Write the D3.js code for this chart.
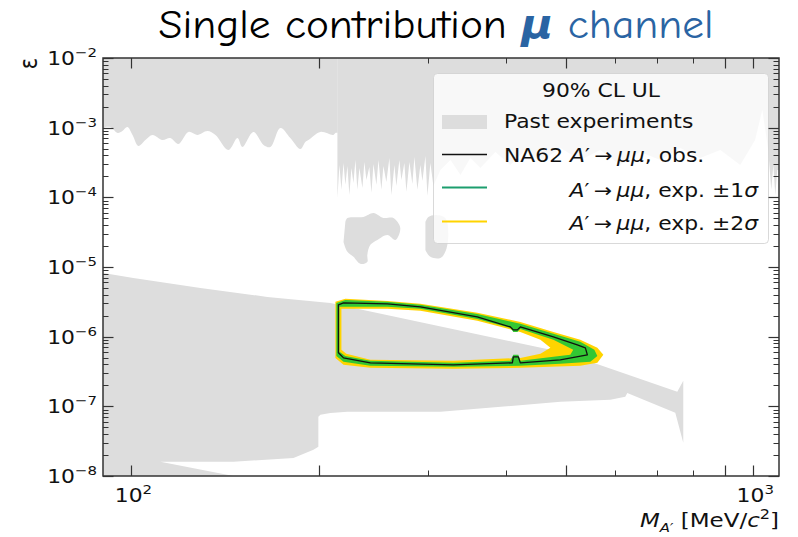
<!DOCTYPE html>
<html>
<head>
<meta charset="utf-8">
<script src="https://cdn.jsdelivr.net/npm/d3@7"></script>
<style>
	body { margin: 0; background: #fff; }
	svg text { font-family: "DejaVu Sans", sans-serif; }
</style>
</head>
<body>
<div id="chart"></div>
<script>
/* axis ranges and tick labels */
var massDomain = [90, 1100];
var epsDomain = [1e-8, 1e-2];
var yTickExps = [-8, -7, -6, -5, -4, -3, -2];
var xTickExps = [2, 3];
var xLongTicks = [100, 200, 500, 900, 1000];
var xShortTicks = [300, 400, 600, 700, 800];

/* past experiments: upper exclusion, lower edge [mass, eps] (smooth part) */
var pastUpperWavy = [
	[85, 9.9e-4], [90.1, 9.9e-4], [90.8, 1.02e-3], [92.5, 1.02e-3], [95.0, 8.4e-4], [96.7, 8.97e-4],
	[98.5, 1.02e-3], [100.4, 7.86e-4], [102.6, 5.46e-4], [105.3, 6.66e-4], [108.1, 7.86e-4],
	[112.1, 6.66e-4], [115.5, 7.11e-4], [119.0, 5.84e-4], [123.5, 8.68e-4], [127.6, 7.86e-4],
	[132.5, 8.97e-4], [136.5, 7.86e-4], [143.2, 4.78e-4], [148.1, 7.11e-4], [150.8, 5.28e-4],
	[157.1, 8.68e-4], [163.1, 5.65e-4], [167.3, 5.28e-4], [173.6, 9.9e-4], [180.1, 7.11e-4],
	[186.9, 4.94e-4], [190.4, 6.24e-4], [192.6, 6.66e-4], [201.3, 8.68e-4], [211.2, 7.86e-4],
	[212.8, 8.4e-4], [214.6, 8.4e-4]
];
/* past experiments: upper exclusion, lower edge (spiky part) */
var pastUpperSpiky = [
	[214.4, 9.8e-5], [216.0, 2.92e-4], [217.6, 1.28e-4], [219.3, 3.11e-4], [220.8, 1.51e-4],
	[222.5, 2.82e-4], [224.1, 1.08e-4], [225.8, 2.64e-4], [227.5, 1.61e-4], [229.2, 3.44e-4],
	[230.8, 1.28e-4], [232.6, 2.64e-4], [235.2, 1.36e-4], [236.9, 3.22e-4], [238.7, 1.78e-4],
	[241.3, 2.73e-4], [243.2, 1.16e-4], [245.0, 3.01e-4], [247.7, 1.51e-4], [249.6, 3.44e-4],
	[252.3, 1.28e-4], [254.2, 2.82e-4], [257.0, 1.66e-4], [259.9, 3.67e-4], [261.8, 1.08e-4],
	[264.8, 2.92e-4], [266.7, 1.46e-4], [269.7, 3.44e-4], [271.7, 1.78e-4], [274.7, 3.11e-4],
	[276.8, 1.20e-4], [279.9, 3.22e-4], [283.0, 1.56e-4], [285.1, 3.80e-4], [288.3, 1.28e-4],
	[291.5, 2.92e-4], [293.7, 1.72e-4], [297.0, 3.93e-4], [299.2, 1.05e-4], [302.5, 3.11e-4],
	[305.9, 1.46e-4], [314.0, 2.47e-4], [325.9, 3.44e-4], [338.2, 2.10e-4], [350.8, 3.67e-4],
	[364.1, 2.64e-4], [384.8, 4.48e-4], [406.7, 2.92e-4], [429.9, 4.79e-4], [454.7, 3.22e-4],
	[489.6, 5.11e-4], [527.2, 3.44e-4], [567.5, 4.79e-4], [611.2, 2.92e-4], [658.1, 4.48e-4],
	[708.7, 3.44e-4], [763.3, 5.11e-4], [821.8, 3.67e-4], [885.1, 4.79e-4], [953.0, 2.92e-4],
	[1007, 6.66e-4], [1034, 1.79e-3], [1057, 4.79e-4], [1069, 1.28e-4], [1077, 2.92e-4],
	[1085, 1.08e-4], [1093, 2.47e-4], [1200, 2.47e-4]
];

/* past experiments: two small islands */
var pastIsland1 = [
	[220.8, 4.44e-5], [222.5, 5.06e-5], [236.0, 5.23e-5], [245.0, 5.97e-5], [254.2, 5.06e-5],
	[263.8, 5.06e-5], [270.6, 3.64e-5], [265.8, 2.45e-5], [258.0, 2.89e-5], [248.6, 2.45e-5],
	[242.2, 2.08e-5], [239.5, 1.49e-5], [239.5, 1.18e-5], [233.4, 1.11e-5], [227.5, 1.40e-5],
	[222.5, 1.65e-5], [219.3, 2.29e-5]
];
var pastIsland2 = [
	[297.0, 4.44e-5], [300.3, 5.23e-5], [308.2, 5.59e-5], [319.7, 5.06e-5], [323.3, 2.89e-5],
	[319.7, 1.65e-5], [314.0, 1.35e-5], [302.5, 1.40e-5], [297.0, 1.76e-5]
];

/* past experiments: lower exclusion (beam dump) */
var pastLower = [
	[85, 8.22e-6], [90.1, 8.22e-6], [100.7, 6.98e-6], [129.1, 5.01e-6], [165.4, 3.72e-6],
	[208.9, 3.05e-6], [471.8, 6.47e-7], [553.2, 4.21e-7], [754.8, 1.62e-7], [771.7, 2.32e-7],
	[771.7, 2.99e-8], [749.2, 8.07e-8], [627.2, 1.56e-7], [622.6, 1.37e-7], [589.0, 1.24e-7],
	[489.6, 1.16e-7], [314.0, 8.34e-8], [222.5, 8.34e-8], [208.9, 8.0e-8], [201.3, 7.55e-8],
	[199.8, 7.07e-8], [199.8, 2.62e-8], [196.2, 2.38e-8], [182.2, 1.82e-8], [145.9, 1.60e-8],
	[111.3, 1.60e-8], [145.9, 1.0e-8], [145.9, 1e-9], [85, 1e-9]
];

/* NA62 A' -> mumu, observed 90% CL contour */
var obsLimit = [
	[215.2, 2.86e-6], [219.3, 3.05e-6], [258.0, 2.96e-6], [291.5, 2.68e-6], [359.9, 1.92e-6],
	[406.8, 1.38e-6], [411.3, 1.25e-6], [417.5, 1.25e-6], [422.1, 1.38e-6], [477.1, 9.93e-7],
	[521.2, 7.63e-7], [537.0, 6.91e-7], [541.0, 5.48e-7], [489.4, 4.65e-7], [422.1, 4.21e-7],
	[419.0, 5.13e-7], [411.3, 5.13e-7], [409.8, 4.21e-7], [329.5, 3.94e-7], [242.2, 4.21e-7],
	[219.3, 4.96e-7], [215.2, 5.86e-7]
];

/* expected +-1 sigma band: outer and inner edges */
var exp1Outer = [
	[213.6, 3.05e-6], [220.8, 3.37e-6], [258.0, 3.16e-6], [291.5, 2.86e-6], [359.9, 2.12e-6],
	[422.1, 1.53e-6], [477.1, 1.10e-6], [527.0, 8.42e-7], [555.2, 6.47e-7], [561.4, 5.30e-7],
	[547.0, 4.35e-7], [489.4, 4.07e-7], [422.1, 3.81e-7], [329.5, 3.69e-7], [242.2, 3.81e-7],
	[219.3, 4.35e-7], [213.6, 5.30e-7]
];
var exp1Inner = [
	[216.0, 2.68e-6], [258.0, 2.68e-6], [291.5, 2.51e-6], [359.9, 1.80e-6], [406.8, 1.34e-6],
	[411.3, 1.17e-6], [417.5, 1.17e-6], [422.1, 1.29e-6], [477.1, 9.00e-7], [513.5, 6.47e-7],
	[507.9, 5.48e-7], [477.1, 5.13e-7], [422.1, 4.50e-7], [419.0, 5.48e-7], [411.3, 5.48e-7],
	[406.8, 4.50e-7], [329.5, 4.21e-7], [242.2, 4.50e-7], [220.8, 5.30e-7], [216.0, 6.05e-7]
];

/* expected +-2 sigma band: outer and inner edges */
var exp2Outer = [
	[212.8, 3.16e-6], [220.8, 3.49e-6], [258.0, 3.26e-6], [291.5, 2.96e-6], [359.9, 2.20e-6],
	[422.1, 1.63e-6], [477.1, 1.17e-6], [527.0, 9.00e-7], [561.4, 6.91e-7], [574.0, 5.48e-7],
	[561.4, 4.21e-7], [527.0, 3.81e-7], [422.1, 3.57e-7], [329.5, 3.45e-7], [242.2, 3.57e-7],
	[219.3, 3.94e-7], [212.8, 4.96e-7]
];
var exp2Inner = [
	[217.6, 2.51e-6], [258.0, 2.51e-6], [291.5, 2.35e-6], [359.9, 1.69e-6], [422.1, 1.17e-6],
	[454.7, 9.00e-7], [471.8, 6.91e-7], [454.7, 5.67e-7], [422.1, 4.96e-7], [329.5, 4.50e-7],
	[242.2, 4.65e-7], [221.6, 5.67e-7], [217.6, 6.47e-7]
];

var legendItems = ["Past experiments", "obs", "exp1", "exp2"];

var colGray = "#dddddd", colYellow = "#ffd400", colGreen = "#33c733",
	colGreenLine = "#1c9e6e", colTitleBlue = "#2a64a3";

var W = 798, H = 537;
var plot = { left: 103, right: 779, top: 58, bottom: 476 };
var stretch = 1.15;	/* text in the picture is a bit wider than tall */

var svg = d3.select("#chart").append("svg")
	.attr("width", W)
	.attr("height", H);

var x = d3.scaleLog().domain(massDomain).range([plot.left, plot.right]);
var y = d3.scaleLog().domain(epsDomain).range([plot.bottom, plot.top]);

svg.append("clipPath").attr("id", "clip")
	.append("rect")
	.attr("x", plot.left).attr("y", plot.top)
	.attr("width", plot.right - plot.left).attr("height", plot.bottom - plot.top);

var line = d3.line().x(function (d) { return x(d[0]); }).y(function (d) { return y(d[1]); });
var smoothLine = d3.line().curve(d3.curveCatmullRom.alpha(0.5))
	.x(function (d) { return x(d[0]); }).y(function (d) { return y(d[1]); });
function ring(pts) { return line(pts) + "Z"; }

// text placed at (px,py) and widened horizontally
function wideText(parent, px, py, size, anchor) {
	return parent.append("text")
		.attr("transform", "translate(" + px + "," + py + ") scale(" + stretch + ",1)")
		.attr("font-size", size)
		.attr("text-anchor", anchor || "start")
		.attr("fill", "#111");
}

var g = svg.append("g").attr("clip-path", "url(#clip)");

// past experiments
g.append("path").attr("d", smoothLine(pastUpperWavy) + "L" + x(214.6) + "," + y(1) + "L" + x(85) + "," + y(1) + "Z")
	.attr("fill", colGray);
var spikyPoly = [[214.4, 1]].concat(pastUpperSpiky).concat([[1200, 1]]);
g.append("path").attr("d", ring(spikyPoly)).attr("fill", colGray);
g.append("path").attr("d", smoothLine(pastIsland1) + "Z").attr("fill", colGray);
g.append("path").attr("d", smoothLine(pastIsland2) + "Z").attr("fill", colGray);
g.append("path").attr("d", ring(pastLower)).attr("fill", colGray);

// expected bands
g.append("path").attr("d", ring(exp2Outer) + ring(exp2Inner))
	.attr("fill", colYellow).attr("fill-rule", "evenodd");
g.append("path").attr("d", ring(exp1Outer) + ring(exp1Inner))
	.attr("fill", colGreen).attr("fill-rule", "evenodd");

// observed
g.append("path").attr("d", ring(obsLimit))
	.attr("fill", "none").attr("stroke", "#111").attr("stroke-width", 1.3)
	.attr("stroke-linejoin", "round");

// legend
var leg = svg.append("g");
leg.append("rect")
	.attr("x", 433.5).attr("y", 73.5).attr("width", 335).attr("height", 170).attr("rx", 4)
	.attr("fill", "#fff").attr("fill-opacity", 0.8)
	.attr("stroke", "#d0d0d0").attr("stroke-opacity", 0.8);
wideText(leg, 601, 97, 19, "middle").text("90% CL UL");
leg.append("rect").attr("x", 442).attr("y", 115).attr("width", 45).attr("height", 14).attr("fill", colGray);
wideText(leg, 504, 128, 19).text(legendItems[0]);

leg.append("line").attr("x1", 442).attr("x2", 487).attr("y1", 154.5).attr("y2", 154.5)
	.attr("stroke", "#111").attr("stroke-width", 1.3);
var t1 = wideText(leg, 504, 162, 19);
t1.append("tspan").text("NA62 ");
decayLabel(t1);
t1.append("tspan").text(", obs.");

leg.append("line").attr("x1", 442).attr("x2", 487).attr("y1", 187.5).attr("y2", 187.5)
	.attr("stroke", colGreenLine).attr("stroke-width", 2);
var t2 = wideText(leg, 758, 197, 19, "end");
decayLabel(t2);
t2.append("tspan").text(", exp. \u00b11");
t2.append("tspan").attr("font-style", "italic").text("\u03c3");

leg.append("line").attr("x1", 442).attr("x2", 487).attr("y1", 221.5).attr("y2", 221.5)
	.attr("stroke", colYellow).attr("stroke-width", 2);
var t3 = wideText(leg, 758, 230, 19, "end");
decayLabel(t3);
t3.append("tspan").text(", exp. \u00b12");
t3.append("tspan").attr("font-style", "italic").text("\u03c3");

function decayLabel(t) {
	t.append("tspan").attr("font-style", "italic").text("A");
	t.append("tspan").text("\u2032\u2009\u2192\u2009");
	t.append("tspan").attr("font-style", "italic").text("\u03bc\u03bc");
}

// spines
svg.append("rect")
	.attr("x", plot.left).attr("y", plot.top)
	.attr("width", plot.right - plot.left).attr("height", plot.bottom - plot.top)
	.attr("fill", "none").attr("stroke", "#333").attr("stroke-width", 1.5);

// ticks (inward, all four sides)
var ticks = svg.append("g").attr("stroke", "#333");
function xTick(v, len, w) {
	var px = Math.round(x(v)) + 0.5;
	ticks.append("line").attr("x1", px).attr("x2", px).attr("y1", plot.bottom).attr("y2", plot.bottom - len).attr("stroke-width", w);
	ticks.append("line").attr("x1", px).attr("x2", px).attr("y1", plot.top).attr("y2", plot.top + len).attr("stroke-width", w);
}
function yTick(v, len, w) {
	var py = Math.round(y(v)) + 0.5;
	ticks.append("line").attr("y1", py).attr("y2", py).attr("x1", plot.left).attr("x2", plot.left + len).attr("stroke-width", w);
	ticks.append("line").attr("y1", py).attr("y2", py).attr("x1", plot.right).attr("x2", plot.right - len).attr("stroke-width", w);
}
xLongTicks.forEach(function (v) { xTick(v, 10.5, 1.2); });
xShortTicks.forEach(function (v) { xTick(v, 5.5, 1); });
yTickExps.forEach(function (e) {
	yTick(Math.pow(10, e), 10.5, 1.2);
	if (e < -2) {
		for (var k = 2; k <= 9; k++) yTick(k * Math.pow(10, e), 5.5, 1);
	}
});

// tick labels
function powLabel(t, e) {
	t.append("tspan").text("10");
	t.append("tspan").attr("dy", -8).attr("font-size", 13).text(e < 0 ? "\u2212" + (-e) : String(e));
}
yTickExps.forEach(function (e) {
	powLabel(wideText(svg, 97, y(Math.pow(10, e)) + 7, 19, "end"), e);
});
xTickExps.forEach(function (e) {
	powLabel(wideText(svg, x(Math.pow(10, e)) + 2, 502, 19, "middle"), e);
});

// axis labels
var xl = wideText(svg, plot.right, 527, 20, "end");
xl.append("tspan").attr("font-style", "italic").text("M");
xl.append("tspan").attr("font-style", "italic").attr("font-size", 13).attr("dy", 5).text("A\u2032");
xl.append("tspan").attr("dy", -5).text(" [MeV/");
xl.append("tspan").attr("font-style", "italic").text("c");
xl.append("tspan").attr("font-size", 14).attr("dy", -8).text("2");
xl.append("tspan").attr("dy", 8).text("]");

svg.append("text")
	.attr("transform", "translate(37," + plot.top + ") rotate(-90) scale(1,1.15)")
	.attr("text-anchor", "end").attr("font-size", 21).attr("fill", "#111")
	.text("\u03b5");

// title
var title = svg.append("text").attr("x", 436).attr("y", 38)
	.attr("text-anchor", "middle").attr("font-size", 40)
	.style("font-family", "'Comic Sans MS', 'Comic Neue', 'DejaVu Sans', sans-serif");
title.append("tspan").attr("fill", "#000").text("Single contribution ");
title.append("tspan").attr("fill", colTitleBlue).attr("font-weight", "bold").attr("font-style", "italic").text("\u03bc");
title.append("tspan").attr("fill", colTitleBlue).text(" channel");
var bb = title.node().getBBox();
var sx = 555 / bb.width;
title.attr("transform", "translate(436,0) scale(" + sx + ",1) translate(-436,0)");
</script>
</body>
</html>
